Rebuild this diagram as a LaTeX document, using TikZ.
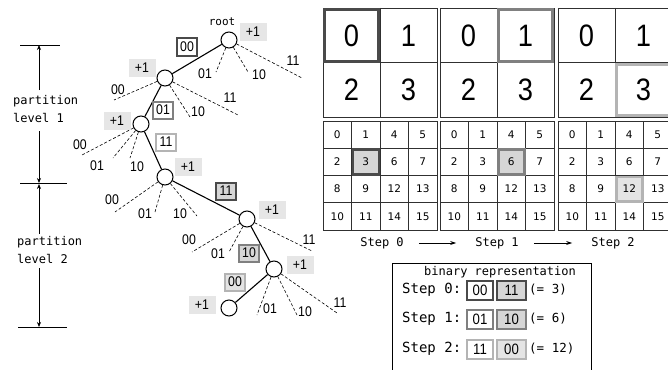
\documentclass[tikz,border=0pt]{standalone}
\usepackage{fontspec}
\setmainfont{Liberation Sans}
\newfontfamily\monofont{DejaVu Sans Mono}
\newfontfamily\numfont{Liberation Sans}[FakeStretch=0.88]
\newfontfamily\cellfont{DejaVu Sans}
\usetikzlibrary{arrows.meta}

\definecolor{hiA}{HTML}{4A4A4A}
\definecolor{hiB}{HTML}{808080}
\definecolor{hiC}{HTML}{B4B4B4}
\definecolor{fillA}{HTML}{D6D6D6}
\definecolor{fillC}{HTML}{E4E4E4}
\definecolor{incfill}{HTML}{E6E6E6}
\definecolor{gridline}{HTML}{303030}

\tikzset{
  vtx/.style={circle, draw, line width=1pt, minimum size=16pt, inner sep=0pt, fill=white},
  treeedge/.style={line width=1.1pt},
  altedge/.style={line width=0.6pt, dash pattern=on 3pt off 2pt},
  altlab/.style={font=\numfont\fontsize{14}{14}\selectfont, inner sep=0pt},
  inc/.style={fill=incfill, minimum width=27pt, minimum height=18pt, inner sep=0pt,
    font=\numfont\fontsize{14}{14}\selectfont},
  tag/.style={draw=#1, line width=2pt, fill=white, minimum width=20pt, minimum height=17pt,
    inner sep=0pt, font=\numfont\fontsize{14}{14}\selectfont},
  bintag/.style={draw=#1, line width=2pt, fill=white, minimum width=26pt, minimum height=19pt,
    inner sep=0pt, font=\numfont\fontsize{15}{15}\selectfont},
  monotext/.style={font=\monofont\fontsize{12}{18}\selectfont, inner sep=0pt},
  dimarrow/.style={line width=0.7pt, -{Stealth[length=5pt,width=4pt]}},
  steparrow/.style={line width=0.7pt, -{Stealth[length=6pt,width=4pt]}},
  bigdigit/.style={font=\numfont\fontsize{31}{31}\selectfont, inner sep=0pt},
  smalldigit/.style={font=\cellfont\fontsize{10.5}{10.5}\selectfont, inner sep=0pt},
  gridstroke/.style={draw=gridline, line width=0.8pt},
}

\begin{document}
\begin{tikzpicture}[x=1pt, y=-1pt]
\useasboundingbox (0,0) rectangle (668,369);
\clip (0,0) rectangle (668,369);
\fill[white] (0,0) rectangle (668,369);

% ---- partition level markers ----
\draw[line width=0.7pt] (20,45) -- (60,45);
\draw[line width=0.7pt] (20,183) -- (67,183);
\draw[line width=0.7pt] (18,327) -- (67,327);
\node[monotext, align=left, anchor=west] (lv1) at (13,109) {partition\\level 1};
\node[monotext, align=left, anchor=west] (lv2) at (17,250) {partition\\level 2};
\coordinate (m1a) at (39,90);
\coordinate (m1top) at (39,45);
\coordinate (m1b) at (39,131);
\coordinate (m1bot) at (39,183);
\coordinate (m2a) at (39,234);
\coordinate (m2top) at (39,184);
\coordinate (m2b) at (39,268);
\coordinate (m2bot) at (39,327);
\draw[dimarrow] (m1a) -- (m1top);
\draw[dimarrow] (m1b) -- (m1bot);
\draw[dimarrow] (m2a) -- (m2top);
\draw[dimarrow] (m2b) -- (m2bot);

% ---- tree nodes ----
\node[vtx] (root) at (229,40) {};
\node[vtx] (A) at (165,78) {};
\node[vtx] (B) at (141,124) {};
\node[vtx] (C) at (165,177) {};
\node[vtx] (D) at (247,219) {};
\node[vtx] (E) at (274,269) {};
\node[vtx] (F) at (229,308) {};
\node[monotext, font=\monofont\fontsize{11}{11}\selectfont] (rootlab) at (222,22) {root};

% chosen path
\draw[treeedge] (root) -- (A);
\draw[treeedge] (A) -- (B);
\draw[treeedge] (B) -- (C);
\draw[treeedge] (C) -- (D);
\draw[treeedge] (D) -- (E);
\draw[treeedge] (E) -- (F);

% alternative branches (end points)
\coordinate (r01) at (216,72);  \coordinate (r10) at (248,72);  \coordinate (r11) at (302,78);
\coordinate (a00) at (114,100); \coordinate (a10) at (190,117); \coordinate (a11) at (238,115);
\coordinate (b00) at (82,155);  \coordinate (b01) at (113,158); \coordinate (b10) at (130,158);
\coordinate (c00) at (115,212); \coordinate (c01) at (155,212); \coordinate (c10) at (197,216);
\coordinate (d00) at (192,252); \coordinate (d01) at (229,252); \coordinate (d11) at (312,251);
\coordinate (e01) at (257,315); \coordinate (e10) at (297,315); \coordinate (e11) at (337,313);
\foreach \s/\t in {root/r01,root/r10,root/r11,A/a00,A/a10,A/a11,B/b00,B/b01,B/b10,
                   C/c00,C/c01,C/c10,D/d00,D/d01,D/d11,E/e01,E/e10,E/e11}
  \draw[altedge] (\s) -- (\t);

% branch labels
\node[altlab] (lr01) at (205,74) {01};
\node[altlab] (lr10) at (259,75) {10};
\node[altlab] (lr11) at (293,61) {11};
\node[altlab] (la00) at (118,90) {00};
\node[altlab] (la10) at (198,112) {10};
\node[altlab] (la11) at (230,98) {11};
\node[altlab] (lb00) at (80,145) {00};
\node[altlab] (lb01) at (97,166) {01};
\node[altlab] (lb10) at (137,167) {10};
\node[altlab] (lc00) at (112,200) {00};
\node[altlab] (lc01) at (145,214) {01};
\node[altlab] (lc10) at (180,214) {10};
\node[altlab] (ld00) at (189,240) {00};
\node[altlab] (ld01) at (218,254) {01};
\node[altlab] (ld11) at (309,240) {11};
\node[altlab] (le01) at (270,309) {01};
\node[altlab] (le10) at (305,312) {10};
\node[altlab] (le11) at (340,303) {11};

% chosen-branch tags
\node[tag=hiA] (t1) at (187,47) {00};
\node[tag=hiB] (t2) at (163,110) {01};
\node[tag=hiC] (t3) at (166,142) {11};
\node[tag=hiA, fill=fillA] (t4) at (226,191) {11};
\node[tag=hiB, fill=fillA] (t5) at (249,253) {10};
\node[tag=hiC, fill=fillC] (t6) at (235,282) {00};

% counters
\node[inc] (iroot) at (253,32) {+1};
\node[inc] (iA) at (142,68) {+1};
\node[inc] (iB) at (117,121) {+1};
\node[inc] (iC) at (188,167) {+1};
\node[inc] (iD) at (272,210) {+1};
\node[inc] (iE) at (300,265) {+1};
\node[inc] (iF) at (202,305) {+1};

% ---- grid panels ----
\foreach \p/\px/\hc/\hr/\bc/\br/\col/\fc in
   {0/323/0/0/1/1/hiA/fillA, 1/440/1/0/2/1/hiB/fillA, 2/558/1/1/2/2/hiC/fillC}{
  % level-1 grid (2x2)
  \draw[gridstroke] (\px,8) rectangle ++(114,109);
  \draw[gridstroke] (\px+57,8) -- ++(0,109);
  \draw[gridstroke] (\px,62.5) -- ++(114,0);
  \foreach \d [count=\i from 0] in {0,1,2,3}{
    \pgfmathtruncatemacro{\cc}{mod(\i,2)}
    \pgfmathtruncatemacro{\rr}{\i/2}
    \node[bigdigit] (big\p-\d) at (\px+28.5+57*\cc, 35.5+54.5*\rr) {\d};
  }
  \draw[draw=\col, line width=3pt] (\px+57*\hc+1.5, 8+54.5*\hr+1.5) rectangle ++(54, 51.5);
  % level-2 grid (4x4)
  \fill[\fc] (\px+28.5*\bc, 121+27.25*\br) rectangle ++(28.5, 27.25);
  \draw[gridstroke] (\px,121) rectangle ++(114,109);
  \foreach \k in {1,2,3}{
    \draw[gridstroke] (\px+28.5*\k,121) -- ++(0,109);
    \draw[gridstroke] (\px,121+27.25*\k) -- ++(114,0);
  }
  \draw[draw=\col, line width=2.5pt] (\px+28.5*\bc+1.25, 121+27.25*\br+1.25) rectangle ++(26, 24.75);
  \foreach \d [count=\i from 0] in {0,1,4,5,2,3,6,7,8,9,12,13,10,11,14,15}{
    \pgfmathtruncatemacro{\cc}{mod(\i,4)}
    \pgfmathtruncatemacro{\rr}{\i/4}
    \node[smalldigit] (sm\p-\d) at (\px+14.25+28.5*\cc, 134.6+27.25*\rr) {\d};
  }
}

% ---- step captions ----
\node[monotext] (s0) at (382,243) {Step 0};
\node[monotext] (s1) at (497,243) {Step 1};
\node[monotext] (s2) at (613,243) {Step 2};
\draw[steparrow] ([xshift=15pt]s0.east) -- ([xshift=-19pt]s1.west);
\draw[steparrow] ([xshift=15pt]s1.east) -- ([xshift=-19pt]s2.west);

% ---- binary representation box ----
\draw[line width=0.8pt] (392,372) -- (392,263) -- (591,263) -- (591,372);
\node[monotext] (bhead) at (500,272) {binary representation};
\foreach \r/\y/\a/\b/\col/\fc/\v in
   {0/290/00/11/hiA/fillA/3, 1/319/01/10/hiB/fillA/6, 2/349/11/00/hiC/fillC/12}{
  \node[monotext, font=\monofont\fontsize{14}{14}\selectfont, anchor=west] (bl\r) at (402,\y) {Step \r:};
  \node[bintag=\col] (bx\r) at (480,\y) {\a};
  \node[bintag=\col, fill=\fc, minimum width=29pt] (by\r) at (511.5,\y) {\b};
  \node[monotext, font=\monofont\fontsize{12.5}{12.5}\selectfont, anchor=west] (bv\r) at (529,\y) {(= \v)};
}
\end{tikzpicture}
\end{document}
